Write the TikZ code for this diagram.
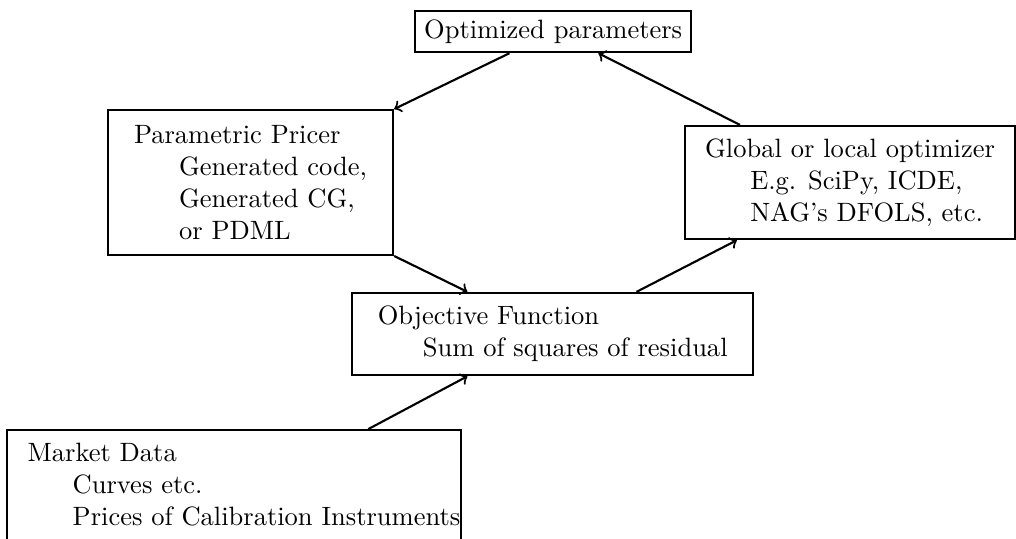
\documentclass[tikz,border=0pt]{standalone}
\begin{document}
\begin{tikzpicture}[
        stagebox/.style={
            rectangle, draw=black, thick,
            align=left, inner sep=3.3pt
        },
        arr/.style={->, thick}
    ]
    \useasboundingbox (0,0) rectangle (13.47,7.135);

    % Top: parameters
    \node[stagebox] (opt) at (7.334, 6.717) {Optimized parameters};

    % Pricer on left
    \node[stagebox, minimum width=3.78cm, minimum height=1.92cm]
        (pricer) at (3.322, 4.715)
        {Parametric Pricer\\
         \hspace*{17pt}Generated code,\\
         \hspace*{17pt}Generated CG,\\
         \hspace*{17pt}or PDML};

    % Optimizer on right
    \node[stagebox, minimum width=4.38cm, minimum height=1.50cm]
        (optim) at (11.27, 4.715)
        {Global or local optimizer\\
         \hspace*{17pt}E.g. SciPy, ICDE,\\
         \hspace*{17pt}NAG's DFOLS, etc.};

    % Objective in the middle
    \node[stagebox, minimum width=5.32cm, minimum height=1.09cm]
        (objf) at (7.328, 2.706)
        {Objective Function\\
         \hspace*{17pt}Sum of squares of residual};

    % Market data, cut by the page edge
    \node[stagebox, anchor=north, inner xsep=0pt, inner ysep=5pt,
          text depth=20pt, minimum width=6.02cm]
        (market) at (3.103, 1.446)
        {\hspace*{7.5pt}Market Data\\
         \hspace*{24.5pt}Curves etc.\\
         \hspace*{24.5pt}Prices of Calibration Instruments};

    % Loop arrows
    \draw[arr] ([xshift=-0.58cm]opt.south) -- (pricer.north east);
    \draw[arr] ([xshift=-1.46cm]optim.north) -- ([xshift=0.60cm]opt.south);
    \draw[arr] (pricer.south east) -- ([xshift=-1.13cm]objf.north);
    \draw[arr] ([xshift=1.11cm]objf.north) -- ([xshift=-1.50cm]optim.south);
    \draw[arr] ([xshift=1.78cm]market.north) -- ([xshift=-1.13cm]objf.south);

\end{tikzpicture}
\end{document}
